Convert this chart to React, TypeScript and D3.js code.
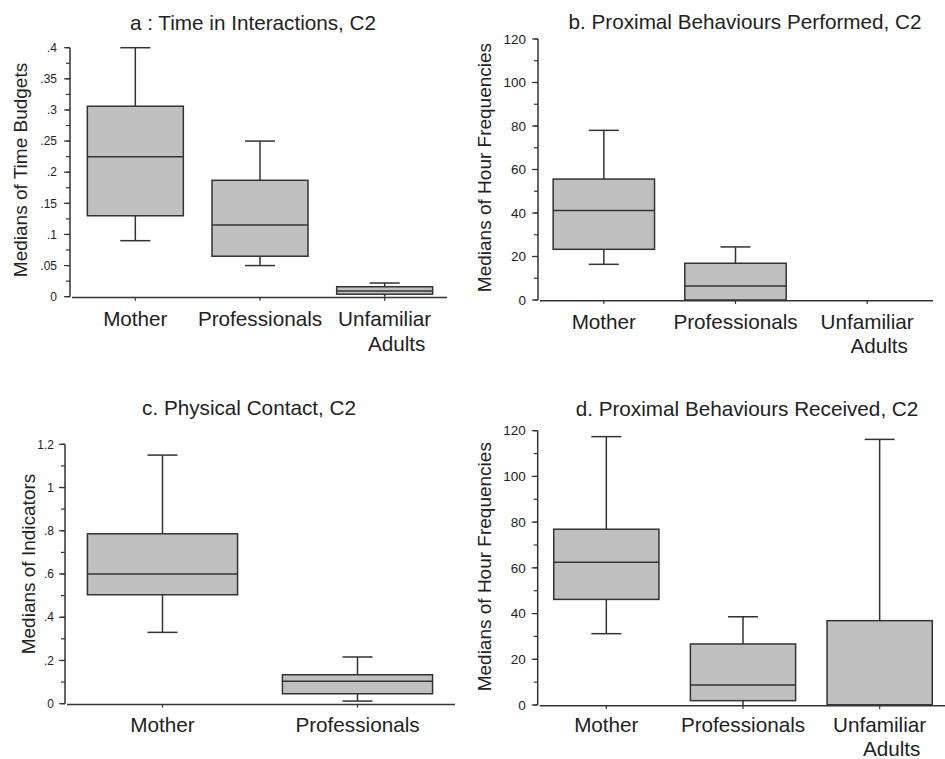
import React from "react";
import * as d3 from "d3";

// ---------- DATA ----------
const catsA = ["Mother", "Professionals", "Unfamiliar Adults"];
const catsB = ["Mother", "Professionals", "Unfamiliar Adults"];
const catsC = ["Mother", "Professionals"];
const catsD = ["Mother", "Professionals", "Unfamiliar Adults"];

// [lowWhisker, Q1, median, Q3, highWhisker]
const boxesA = [
  [0.09, 0.13, 0.225, 0.306, 0.4],
  [0.05, 0.065, 0.115, 0.187, 0.25],
  [0.0, 0.004, 0.009, 0.016, 0.022],
];
const boxesB = [
  [16.4, 23.3, 41.2, 55.6, 78],
  [0, 0, 6.4, 16.9, 24.4],
  [0, 0, 0, 0, 0],
];
const boxesC = [
  [0.33, 0.504, 0.6, 0.786, 1.15],
  [0.012, 0.046, 0.104, 0.134, 0.216],
];
const boxesD = [
  [31.2, 46.2, 62.4, 76.9, 117.4],
  [0, 1.9, 8.75, 26.7, 38.6],
  [0, 0, 0, 36.9, 116.2],
];

const titles = [
  "a : Time in Interactions, C2",
  "b. Proximal Behaviours Performed, C2",
  "c. Physical Contact, C2",
  "d. Proximal Behaviours Received, C2",
];
const yLabels = [
  "Medians of Time Budgets",
  "Medians of Hour Frequencies",
  "Medians of Indicators",
  "Medians of Hour Frequencies",
];

const FONT = "'Liberation Sans', Arial, sans-serif";
const INK = "#333";
const FILL = "#c0c0c0";
const BIG = 20.7;

const fmtDec = (v: number) => {
  if (v === 0) return "0";
  let s = d3.format("~g")(+v.toFixed(3));
  if (s.startsWith("0.")) s = s.slice(1);
  return s;
};

type PanelCfg = {
  cats: string[];
  boxes: number[][];
  title: string;
  titleX: number;
  titleY: number;
  yLabel: string;
  yLabelX: number;
  yLabelY: number;
  axisX: number;
  xRange: [number, number];
  xAxisEnd: number;
  yMax: number;
  yRange: [number, number];
  major: number;
  minor: number;
  tickFont: number;
  tickGap: number;
  catY: number;
  fmt: (v: number) => string;
};

const panels: PanelCfg[] = [
  {
    cats: catsA, boxes: boxesA, title: titles[0], titleX: 253, titleY: 30,
    yLabel: yLabels[0], yLabelX: 27, yLabelY: 170,
    axisX: 70, xRange: [73, 447], xAxisEnd: 447,
    yMax: 0.4, yRange: [296.7, 47.7], major: 0.05, minor: 0.025, tickFont: 12, tickGap: 13,
    catY: 326, fmt: fmtDec,
  },
  {
    cats: catsB, boxes: boxesB, title: titles[1], titleX: 745, titleY: 28.5,
    yLabel: yLabels[1], yLabelX: 491, yLabelY: 167.5,
    axisX: 538, xRange: [538, 933], xAxisEnd: 933,
    yMax: 120, yRange: [300, 39], major: 20, minor: 10, tickFont: 13.5, tickGap: 12,
    catY: 328.5, fmt: (v) => String(v),
  },
  {
    cats: catsC, boxes: boxesC, title: titles[2], titleX: 249, titleY: 415,
    yLabel: yLabels[2], yLabelX: 34.5, yLabelY: 564,
    axisX: 65, xRange: [65, 455], xAxisEnd: 455,
    yMax: 1.2, yRange: [703.7, 444.3], major: 0.2, minor: 0.1, tickFont: 12, tickGap: 11,
    catY: 731.5, fmt: fmtDec,
  },
  {
    cats: catsD, boxes: boxesD, title: titles[3], titleX: 747, titleY: 415.5,
    yLabel: yLabels[3], yLabelX: 491, yLabelY: 566.7,
    axisX: 537.7, xRange: [538, 948], xAxisEnd: 945,
    yMax: 120, yRange: [705, 430.7], major: 20, minor: 10, tickFont: 13.5, tickGap: 12,
    catY: 731.5, fmt: (v) => String(v),
  },
];

function Panel({ p }: { p: PanelCfg }) {
  const y = d3.scaleLinear().domain([0, p.yMax]).range(p.yRange);
  const x = d3.scalePoint<string>().domain(p.cats).range(p.xRange).padding(0.5);
  const step = x.step();
  const bw = step * 0.77;
  const cap = 30;
  const nMajor = Math.round(p.yMax / p.major);
  const majors = d3.range(nMajor + 1).map((i) => +(i * p.major).toFixed(6));
  const nMinor = Math.round(p.yMax / p.minor);
  const minors = d3.range(nMinor + 1).map((i) => +(i * p.minor).toFixed(6));
  const y0 = y(0);

  return (
    <g>
      <text x={p.titleX} y={p.titleY} textAnchor="middle" fontSize={BIG} fill="#222" fontFamily={FONT}>
        {p.title}
      </text>
      <text
        transform={`translate(${p.yLabelX},${p.yLabelY}) rotate(-90)`}
        textAnchor="middle" fontSize={19} fill="#222" fontFamily={FONT}
      >
        {p.yLabel}
      </text>
      {/* boxes */}
      {p.boxes.map((b, i) => {
        const [lo, q1, med, q3, hi] = b;
        if (hi === 0 && q3 === 0) return null;
        const cx = x(p.cats[i])!;
        return (
          <g key={i} stroke={INK} strokeWidth={1.5}>
            {hi > q3 && <line x1={cx} x2={cx} y1={y(q3)} y2={y(hi)} />}
            {hi > q3 && <line x1={cx - cap / 2} x2={cx + cap / 2} y1={y(hi)} y2={y(hi)} />}
            {lo < q1 && <line x1={cx} x2={cx} y1={y(q1)} y2={y(lo)} />}
            {lo < q1 && lo > 0 && <line x1={cx - cap / 2} x2={cx + cap / 2} y1={y(lo)} y2={y(lo)} />}
            <rect x={cx - bw / 2} y={y(q3)} width={bw} height={y(q1) - y(q3)} fill={FILL} />
            <line x1={cx - bw / 2} x2={cx + bw / 2} y1={y(med)} y2={y(med)} />
          </g>
        );
      })}
      {/* y axis */}
      <line x1={p.axisX} x2={p.axisX} y1={y0} y2={y(p.yMax)} stroke={INK} strokeWidth={1.5} />
      {minors.map((v) => (
        <line key={"mi" + v} x1={p.axisX - 4} x2={p.axisX} y1={y(v)} y2={y(v)} stroke={INK} strokeWidth={1.2} />
      ))}
      {majors.map((v) => (
        <g key={"ma" + v}>
          <line x1={p.axisX - 6} x2={p.axisX} y1={y(v)} y2={y(v)} stroke={INK} strokeWidth={1.2} />
          <text x={p.axisX - p.tickGap} y={y(v)} dy="0.35em" textAnchor="end" fontSize={p.tickFont} fill="#222" fontFamily={FONT}>
            {p.fmt(v)}
          </text>
        </g>
      ))}
      {/* x axis */}
      <line x1={p.axisX + 2} x2={p.xAxisEnd} y1={y0 + 0.8} y2={y0 + 0.8} stroke={INK} strokeWidth={1.6} />
      {p.cats.map((c) => {
        const cx = x(c)!;
        const parts = c === "Unfamiliar Adults" ? ["Unfamiliar", "Adults"] : [c];
        return (
          <g key={c}>
            <line x1={cx} x2={cx} y1={y0 + 1} y2={y0 + 4} stroke={INK} strokeWidth={1.2} />
            {parts.map((t, k) => (
              <text
                key={t}
                x={cx + (k === 1 ? 12 : 0)}
                y={p.catY + k * 24.5}
                textAnchor="middle" fontSize={BIG} fill="#222" fontFamily={FONT}
              >
                {t}
              </text>
            ))}
          </g>
        );
      })}
    </g>
  );
}

export default function App() {
  return (
    <svg
      width={945}
      height={759}
      style={{ position: "absolute", left: 0, top: 0, background: "#fff" }}
    >
      <rect width={945} height={759} fill="#fff" />
      {panels.map((p, i) => (
        <Panel key={i} p={p} />
      ))}
    </svg>
  );
}
